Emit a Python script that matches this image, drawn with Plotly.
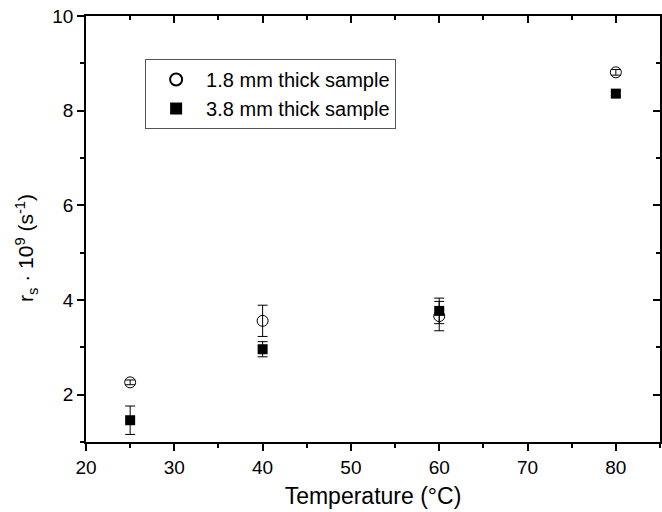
import plotly.graph_objects as go

temps = [25, 40, 60, 80]
thin_vals = [2.26, 3.56, 3.66, 8.81]
thin_err = [0.05, 0.33, 0.31, 0.06]
thick_vals = [1.46, 2.96, 3.77, 8.36]
thick_err = [0.30, 0.16, 0.27, 0.05]

font = "Liberation Sans, Arial, sans-serif"

fig = go.Figure()
fig.add_trace(go.Scatter(
    x=temps, y=thin_vals, mode="markers", name="1.8 mm thick sample",
    marker=dict(symbol="circle-open", size=11, color="black", line=dict(width=1, color="black")),
    error_y=dict(type="data", array=thin_err, color="black", thickness=1, width=5),
))
fig.add_trace(go.Scatter(
    x=temps, y=thick_vals, mode="markers", name="3.8 mm thick sample",
    marker=dict(symbol="square", size=10, color="black"),
    error_y=dict(type="data", array=thick_err, color="black", thickness=1, width=5),
))
# invisible trace for mirrored axes
fig.add_trace(go.Scatter(x=[20], y=[1], xaxis="x2", yaxis="y2", mode="markers",
                         marker=dict(opacity=0), showlegend=False, hoverinfo="skip"))

axis_common = dict(showgrid=False, zeroline=False, showline=True, linecolor="black",
                   linewidth=1.5, tickcolor="black", ticklen=7, tickwidth=1.5, automargin=False,
                   ticklabeloverflow="allow",
                   tickfont=dict(family=font, size=19, color="black"))

mirror_common = dict(showticklabels=False, showgrid=False, zeroline=False, showline=True,
                     linecolor="black", linewidth=1.5, tickcolor="black", ticklen=7,
                     tickwidth=1.5, automargin=False)

fig.update_layout(
    width=662, height=512,
    margin=dict(l=86, r=2, t=16, b=70),
    paper_bgcolor="white", plot_bgcolor="white",
    font=dict(family=font, color="black"),
    xaxis=dict(range=[20, 85], dtick=10, tick0=20, ticks="outside",
               minor=dict(ticks="outside", dtick=5, ticklen=4, tickcolor="black", tickwidth=1.5),
               title=dict(text="Temperature (°C)", font=dict(family=font, size=23), standoff=11),
               **axis_common),
    yaxis=dict(range=[1, 10], dtick=2, tick0=0, ticks="outside",
               minor=dict(ticks="outside", dtick=1, ticklen=4, tickcolor="black", tickwidth=1.5),
               **axis_common),
    xaxis2=dict(range=[20, 85], dtick=10, tick0=20, ticks="inside", overlaying="x", side="top",
                minor=dict(ticks="inside", dtick=5, ticklen=4, tickcolor="black", tickwidth=1.5),
                **mirror_common),
    yaxis2=dict(range=[1, 10], dtick=2, tick0=0, ticks="inside", overlaying="y", side="right",
                minor=dict(ticks="inside", dtick=1, ticklen=4, tickcolor="black", tickwidth=1.5),
                **mirror_common),
    legend=dict(x=0.103, y=0.899, xanchor="left", yanchor="top",
                bordercolor="#555555", borderwidth=1, bgcolor="white",
                font=dict(family=font, size=20, color="black"),
                itemsizing="constant", itemwidth=50, tracegroupgap=0),
    showlegend=True,
    annotations=[dict(
        text="r<sub>s</sub> · 10<sup>9</sup> (s<sup>-1</sup>)",
        xref="paper", yref="paper", x=-0.105, y=0.455, xanchor="center", yanchor="middle",
        textangle=-90, showarrow=False, font=dict(family=font, size=21, color="black"),
    )],
)

fig.write_html("out.html", config={"displayModeBar": False},
               post_script="document.body.style.margin='0';document.body.style.overflow='hidden';")
